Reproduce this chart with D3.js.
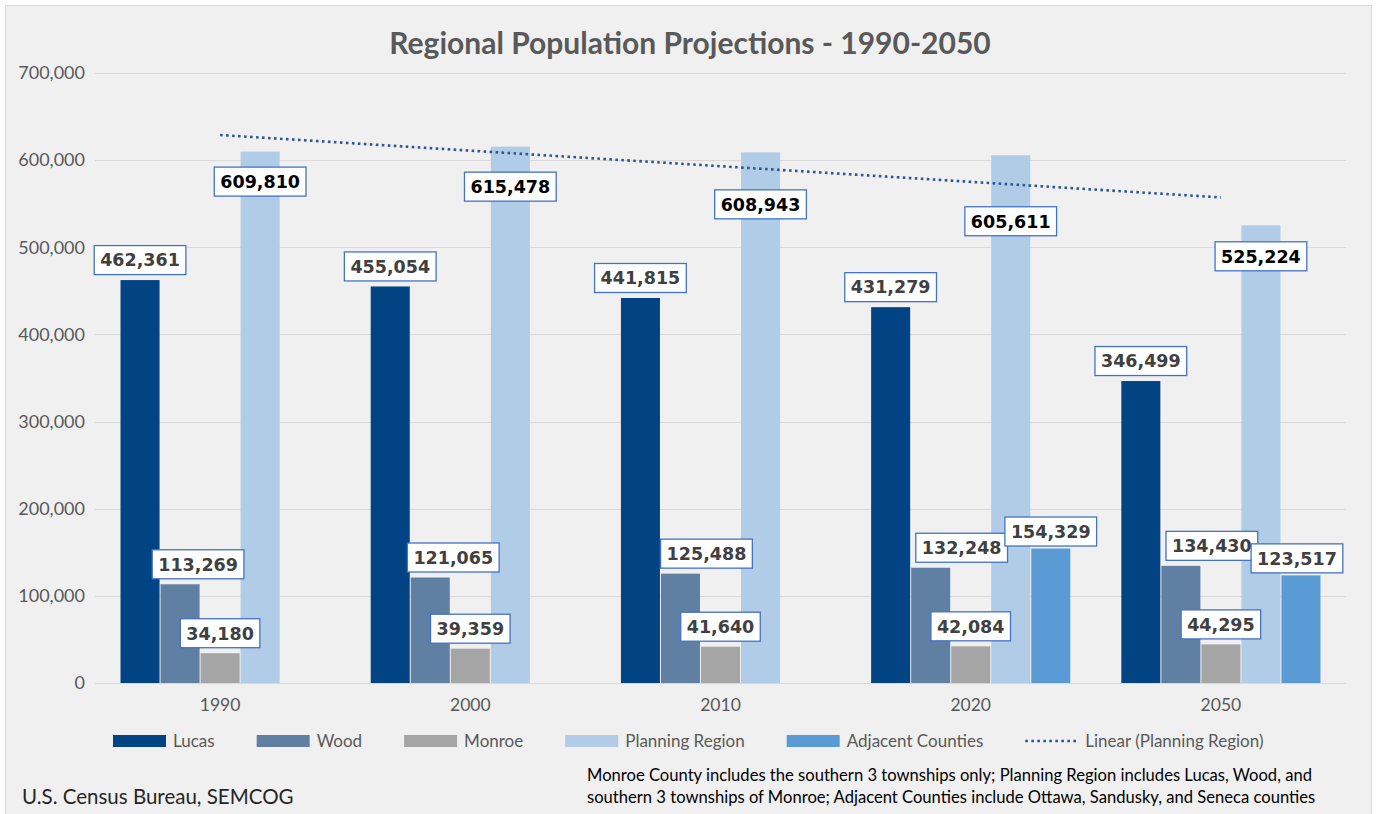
<!DOCTYPE html>
<html>
<head>
<meta charset="utf-8">
<script src="https://cdn.jsdelivr.net/npm/d3@7"></script>
<style>
  html, body { margin: 0; padding: 0; background: #ffffff; }
  svg { display: block; }
</style>
</head>
<body>
<div id="chart"></div>
<script>
'use strict';

// ── Data ──
var years = ['1990', '2000', '2010', '2020', '2050'];
var seriesNames = ['Lucas', 'Wood', 'Monroe', 'Planning Region', 'Adjacent Counties'];
var lucas = [462361, 455054, 441815, 431279, 346499];
var wood = [113269, 121065, 125488, 132248, 134430];
var monroe = [34180, 39359, 41640, 42084, 44295];
var planning = [609810, 615478, 608943, 605611, 525224];
var adjacent = [null, null, null, 154329, 123517];
var yTicks = [0, 100000, 200000, 300000, 400000, 500000, 600000, 700000];

// label nudges (manual placement in the original)
var woodLabelDx = [18, 23, 26, 31, 31];
var planningLabelDy = [30, 40, 52, 66, 31];
var adjacentLabelDx = [0, 0, 0, 0, -4];

var colors = ['#014383', '#5f80a2', '#a5a5a5', '#b0cce7', '#5b9bd5'];
var trendColor = '#2f5597';

var W = 1380, H = 814;
var margin = {left: 95, right: 34, top: 73, bottom: 131};

var svg = d3.select('#chart').append('svg').attr('width', W).attr('height', H);

// frame
svg.append('rect').attr('x', 5.5).attr('y', 5.5).attr('width', 1366).attr('height', 820)
    .style('fill', '#f0f0f0').style('stroke', '#d9d9d9').style('stroke-width', 1);

var x = d3.scaleBand().domain(years).range([margin.left, W - margin.right])
    .paddingInner(0.2).paddingOuter(0.1);
var xs = d3.scaleBand().domain(d3.range(seriesNames.length)).range([0, x.bandwidth()]);
var y = d3.scaleLinear().domain([0, 700000]).range([H - margin.bottom, margin.top]);

var fmt = d3.format(',');

// title
svg.append('text').attr('x', 690).attr('y', 54).attr('text-anchor', 'middle')
    .style('font-family', 'Lato, sans-serif').style('font-weight', 700).style('font-size', '30px')
    .style('fill', '#595959').text('Regional Population Projections - 1990-2050');

// grid
svg.append('g').selectAll('line').data(yTicks).enter().append('line')
    .attr('x1', margin.left).attr('x2', W - margin.right)
    .attr('y1', function(d) { return Math.round(y(d)) + 0.5; })
    .attr('y2', function(d) { return Math.round(y(d)) + 0.5; })
    .style('stroke', '#d9d9d9').style('stroke-width', 1.2);

// y axis
var yAxis = svg.append('g').attr('transform', 'translate(' + (margin.left - 10) + ',0)')
    .call(d3.axisLeft(y).tickValues(yTicks).tickFormat(fmt).tickSize(0).tickPadding(0));
yAxis.select('.domain').remove();
yAxis.selectAll('text').style('font-family', 'Lato, sans-serif').style('font-size', '18px').style('fill', '#595959');

// x axis
var xAxis = svg.append('g').attr('transform', 'translate(0,' + (H - margin.bottom) + ')')
    .call(d3.axisBottom(x).tickSize(0).tickPadding(16));
xAxis.select('.domain').remove();
xAxis.selectAll('text').style('font-family', 'Lato, sans-serif').style('font-size', '17.5px').style('fill', '#595959');

// bars
var series = [lucas, wood, monroe, planning, adjacent];
var barData = [];
series.forEach(function(vals, si) {
    vals.forEach(function(v, yi) {
        if (v !== null) barData.push({s: si, year: years[yi], yi: yi, value: v});
    });
});

svg.append('g').selectAll('rect').data(barData).enter().append('rect')
    .attr('x', function(d) { return x(d.year) + xs(d.s) + 0.5; })
    .attr('width', xs.bandwidth() - 1)
    .attr('y', function(d) { return y(d.value); })
    .attr('height', function(d) { return y(0) - y(d.value); })
    .style('fill', function(d) { return colors[d.s]; });

// trendline (linear fit over planning region)
var n = planning.length;
var xm = d3.mean(d3.range(1, n + 1));
var ym = d3.mean(planning);
var slope = d3.sum(planning, function(v, i) { return (i + 1 - xm) * (v - ym); }) /
    d3.sum(planning, function(v, i) { return (i + 1 - xm) * (i + 1 - xm); });
var trend = [1, n].map(function(t) { return {year: years[t - 1], value: ym + slope * (t - xm)}; });

var trendLine = d3.line()
    .x(function(d) { return x(d.year) + x.bandwidth() / 2; })
    .y(function(d) { return y(d.value); });

svg.append('path').datum(trend).attr('d', trendLine)
    .style('fill', 'none').style('stroke', trendColor).style('stroke-width', 2.6)
    .style('stroke-dasharray', '2.6,3.4');

// data labels
var labelG = svg.append('g');
barData.forEach(function(d) {
    var cx = x(d.year) + xs(d.s) + xs.bandwidth() / 2;
    var cy = y(d.value) - 20;
    if (d.s === 1) cx += woodLabelDx[d.yi];
    if (d.s === 4) { cx += adjacentLabelDx[d.yi]; cy += 3; }
    if (d.s === 3) cy = y(d.value) + planningLabelDy[d.yi];
    var g = labelG.append('g').attr('transform', 'translate(' + cx + ',' + cy + ')');
    var box = g.append('rect');
    var t = g.append('text').attr('text-anchor', 'middle').attr('dy', '0.36em')
        .style('font-family', '"DejaVu Sans", sans-serif').style('font-weight', 700)
        .style('font-size', '17.5px').style('fill', d.s === 3 ? '#000000' : '#404040')
        .text(fmt(d.value));
    var tw = t.node().getComputedTextLength();
    var bw = tw + 12, bh = 29;
    box.attr('x', -bw / 2).attr('y', -bh / 2).attr('width', bw).attr('height', bh)
        .style('fill', '#ffffff').style('stroke', '#4472c4').style('stroke-width', 1.3);
});

// legend
var legendItems = seriesNames.map(function(name, i) { return {name: name, type: 'bar', color: colors[i]}; })
    .concat([{name: 'Linear (Planning Region)', type: 'line', color: trendColor}]);

var legend = svg.append('g');
var lx = 113, ly = 741;
legendItems.forEach(function(it) {
    var g = legend.append('g').attr('transform', 'translate(' + lx + ',' + ly + ')');
    if (it.type === 'bar') {
        g.append('rect').attr('x', 0).attr('y', -6).attr('width', 53).attr('height', 12).style('fill', it.color);
    } else {
        g.append('line').attr('x1', 0).attr('x2', 52).attr('y1', 0).attr('y2', 0)
            .style('stroke', it.color).style('stroke-width', 2.6).style('stroke-dasharray', '2.6,3.4');
    }
    var t = g.append('text').attr('x', 60).attr('dy', '0.35em')
        .style('font-family', 'Lato, sans-serif').style('font-size', '17px').style('fill', '#595959')
        .text(it.name);
    lx += 60 + t.node().getComputedTextLength() + 42;
});

// footnotes
svg.append('text').attr('x', 22).attr('y', 804)
    .style('font-family', 'Lato, sans-serif').style('font-size', '20.5px').style('fill', '#262626')
    .text('U.S. Census Bureau, SEMCOG');

var notes = ['Monroe County includes the southern 3 townships only; Planning Region includes Lucas, Wood, and',
    'southern 3 townships of Monroe; Adjacent Counties include Ottawa, Sandusky, and Seneca counties'];
svg.append('g').selectAll('text').data(notes).enter().append('text')
    .attr('x', 587).attr('y', function(d, i) { return 781 + i * 22; })
    .style('font-family', 'Lato, sans-serif').style('font-size', '16.6px').style('fill', '#000000')
    .text(function(d) { return d; });
</script>
</body>
</html>
